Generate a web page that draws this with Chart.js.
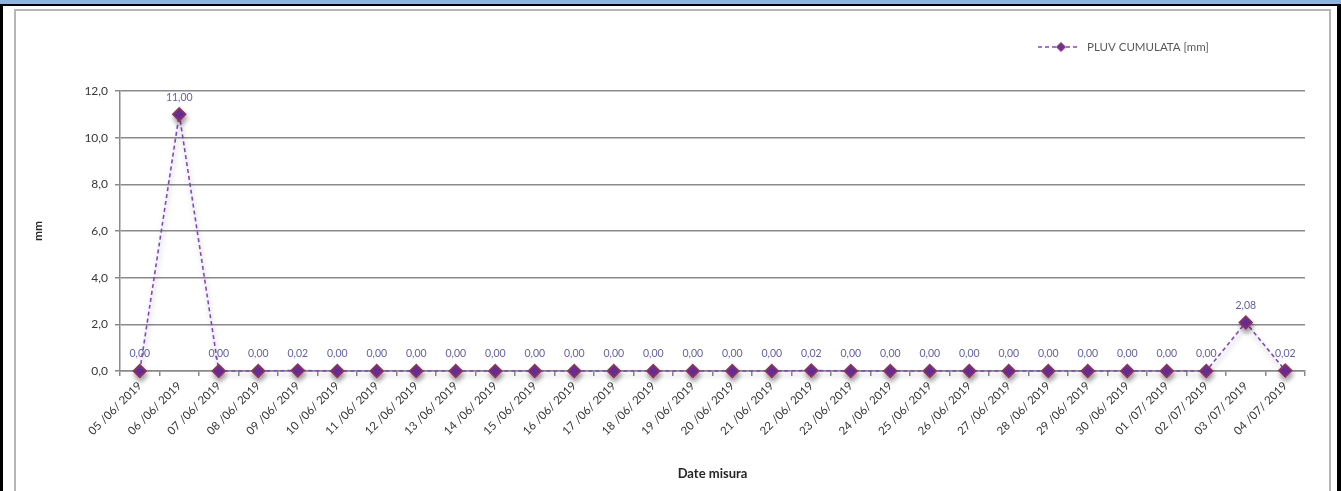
<!DOCTYPE html>
<html>
<head>
<meta charset="utf-8">
<script src="https://cdn.jsdelivr.net/npm/chart.js@4/dist/chart.umd.min.js"></script>
<style>
html,body{margin:0;padding:0;background:#fff;width:1341px;height:491px;overflow:hidden;position:relative;}
#banner{position:absolute;left:0;top:0;width:1341px;height:4px;background:#8DB3E2;border-bottom:2px solid #000;}
#lb{position:absolute;left:0;top:4px;width:3px;height:487px;background:#000;}
#rb{position:absolute;left:1337px;top:4px;width:4px;height:487px;background:#000;}
#frame{position:absolute;left:14px;top:9px;width:1313px;height:490px;border:2px solid #b5b5b5;border-bottom:none;}
#wrap{position:absolute;left:16px;top:11px;width:1312px;height:480px;}
</style>
</head>
<body>
<div id="banner"></div>
<div id="lb"></div>
<div id="rb"></div>
<div id="frame"></div>
<div id="wrap"><canvas id="c"></canvas></div>
<script>
const categories = [
  '05 /06/ 2019','06 /06/ 2019','07 /06/ 2019','08 /06/ 2019','09 /06/ 2019','10 /06/ 2019',
  '11 /06/ 2019','12 /06/ 2019','13 /06/ 2019','14 /06/ 2019','15 /06/ 2019','16 /06/ 2019',
  '17 /06/ 2019','18 /06/ 2019','19 /06/ 2019','20 /06/ 2019','21 /06/ 2019','22 /06/ 2019',
  '23 /06/ 2019','24 /06/ 2019','25 /06/ 2019','26 /06/ 2019','27 /06/ 2019','28 /06/ 2019',
  '29 /06/ 2019','30 /06/ 2019','01 /07/ 2019','02 /07/ 2019','03 /07/ 2019','04 /07/ 2019'
];
const rainValues = [
  0, 11, 0, 0, 0.02, 0,
  0, 0, 0, 0, 0, 0,
  0, 0, 0, 0, 0, 0.02,
  0, 0, 0, 0, 0, 0,
  0, 0, 0, 0, 2.08, 0.02
];
const yTicks = [0, 2, 4, 6, 8, 10, 12];
const seriesName = 'PLUV CUMULATA [mm]';
const yTitle = 'mm';
const xTitle = 'Date misura';

const FONT = 'Lato, "Open Sans", sans-serif';
const lineColor = '#7d48c8';
const markerFill = '#7030A0';
const markerBorder = '#953553';
const labelColor = '#6262a8';
const axisGray = '#8a8a8a';
const textGray = '#383838';

function fmt(v, d) { return v.toFixed(d).replace('.', ','); }

const shadowPlugin = {
  id: 'shadowPlugin',
  beforeDatasetDraw(chart) {
    const c = chart.ctx;
    c.save();
    c.shadowColor = 'rgba(0,0,0,0.35)';
    c.shadowBlur = 5;
    c.shadowOffsetX = 1;
    c.shadowOffsetY = 4;
  },
  afterDatasetDraw(chart) { chart.ctx.restore(); }
};

const valueLabels = {
  id: 'valueLabels',
  afterDatasetsDraw(chart) {
    const c = chart.ctx;
    const meta = chart.getDatasetMeta(0);
    c.save();
    c.font = '10.5px ' + FONT;
    c.fillStyle = labelColor;
    c.textAlign = 'center';
    c.textBaseline = 'middle';
    meta.data.forEach((pt, i) => {
      c.fillText(fmt(rainValues[i], 2), pt.x, pt.y - 17);
    });
    c.restore();
  }
};

const legendDraw = {
  id: 'legendDraw',
  afterDraw(chart) {
    const c = chart.ctx;
    const y = 36;
    c.save();
    c.strokeStyle = lineColor;
    c.lineWidth = 1.5;
    c.setLineDash([4, 3]);
    c.beginPath(); c.moveTo(1022, y); c.lineTo(1064, y); c.stroke();
    c.setLineDash([]);
    const x = 1045, r = 4.5;
    c.beginPath();
    c.moveTo(x - r, y); c.lineTo(x, y - r); c.lineTo(x + r, y); c.lineTo(x, y + r); c.closePath();
    c.fillStyle = markerFill; c.fill();
    c.strokeStyle = markerBorder; c.lineWidth = 1; c.stroke();
    c.font = '11.5px ' + FONT;
    c.fillStyle = '#595959';
    c.textAlign = 'left';
    c.textBaseline = 'middle';
    c.fillText(seriesName, 1071, y);
    c.restore();
  }
};

new Chart(document.getElementById('c'), {
  type: 'line',
  data: {
    labels: categories,
    datasets: [{
      label: seriesName,
      data: rainValues,
      borderColor: lineColor,
      borderWidth: 1.6,
      borderDash: [4, 3],
      backgroundColor: markerFill,
      pointStyle: 'rectRot',
      pointRadius: 6.5,
      pointHoverRadius: 6.5,
      pointBackgroundColor: markerFill,
      pointBorderColor: markerBorder,
      pointBorderWidth: 1.5,
      tension: 0,
      fill: false,
      clip: false
    }]
  },
  options: {
    responsive: true,
    maintainAspectRatio: false,
    animation: false,
    events: [],
    layout: { padding: { top: 80, right: 23, left: 0, bottom: 0 } },
    plugins: {
      legend: { display: false },
      tooltip: { enabled: false }
    },
    scales: {
      x: {
        offset: true,
        afterFit(s) { s.height = 120; },
        grid: { display: true, drawOnChartArea: false, offset: true, tickLength: 5, color: axisGray, lineWidth: 1.5 },
        border: { display: true, color: axisGray, width: 1.5 },
        ticks: {
          autoSkip: false, maxRotation: 45, minRotation: 45, padding: 3,
          color: textGray, font: { family: FONT, size: 11.5 }
        },
        title: {
          display: true, text: xTitle, color: '#262626',
          font: { family: FONT, size: 13, weight: 'bold' },
          padding: { top: 0, bottom: 9 }
        }
      },
      y: {
        min: 0, max: 12,
        afterFit(s) { s.width = 104; },
        afterBuildTicks(s) { s.ticks = yTicks.map(v => ({ value: v })); },
        grid: { color: axisGray, lineWidth: 1.5, tickLength: 5 },
        border: { display: true, color: axisGray, width: 1.5 },
        ticks: {
          padding: 7, color: textGray,
          font: { family: FONT, size: 12 },
          callback: v => fmt(v, 1)
        },
        title: {
          display: true, text: yTitle, color: '#262626',
          font: { family: FONT, size: 12, weight: 'bold' },
          padding: { top: 15, bottom: 0 }
        }
      }
    }
  },
  plugins: [shadowPlugin, valueLabels, legendDraw]
});
</script>
</body>
</html>
